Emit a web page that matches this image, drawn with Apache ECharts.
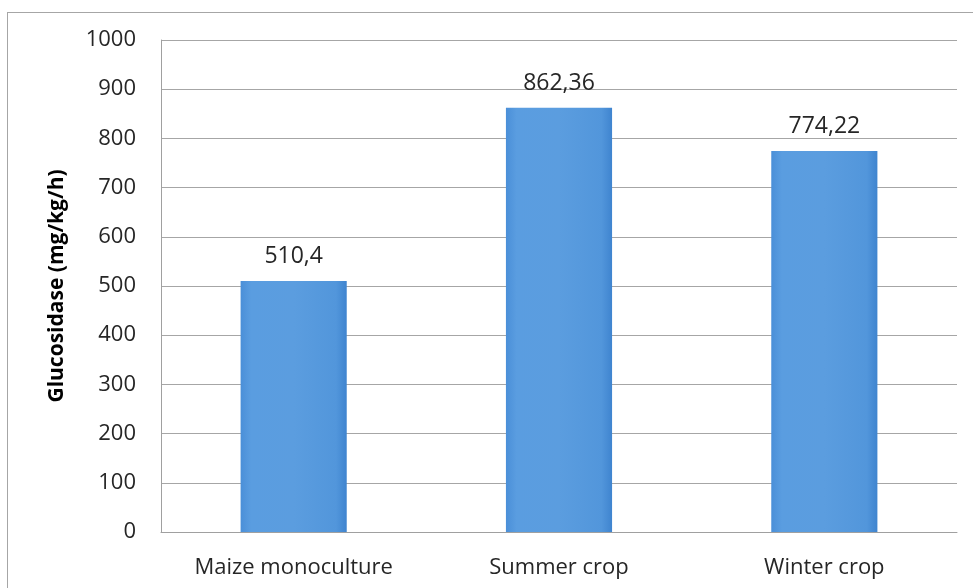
<!DOCTYPE html>
<html>
<head>
<meta charset="utf-8">
<script src="https://cdn.jsdelivr.net/npm/echarts@6/dist/echarts.min.js"></script>
<style>
  html, body { margin: 0; padding: 0; background: #ffffff; }
  #frame { position: absolute; left: 7px; top: 12px; width: 980px; height: 600px; border: 1px solid #a6a6a6; box-sizing: border-box; }
  #chart { position: absolute; left: 0; top: 0; width: 973px; height: 588px; }
</style>
</head>
<body>
<div id="frame"></div>
<div id="chart"></div>
<script>
// Glucosidase activity by cropping system
const categories = ['Maize monoculture', 'Summer crop', 'Winter crop'];
const glucosidase = [510.4, 862.36, 774.22];
const yAxisTitle = 'Glucosidase (mg/kg/h)';

const fontFamily = '"Open Sans", "Liberation Sans", sans-serif';
const chart = echarts.init(document.getElementById('chart'), null, { renderer: 'canvas' });

chart.setOption({
  animation: false,
  backgroundColor: 'transparent',
  grid: { left: 161, right: 16, top: 40, bottom: 56, containLabel: false },
  xAxis: {
    type: 'category',
    data: categories,
    axisLine: { show: true, lineStyle: { color: '#a0a0a0', width: 1 } },
    axisTick: { show: false },
    axisLabel: { color: '#262626', fontSize: 22, fontFamily: fontFamily, margin: 25 }
  },
  yAxis: {
    type: 'value',
    min: 0,
    max: 1000,
    interval: 100,
    name: yAxisTitle,
    nameLocation: 'middle',
    nameGap: 93,
    nameRotate: 90,
    nameTextStyle: { color: '#000000', fontSize: 21, fontWeight: 'bold', fontFamily: fontFamily },
    axisLine: { show: true, lineStyle: { color: '#a0a0a0', width: 1 } },
    axisTick: { show: false },
    axisLabel: { color: '#262626', fontSize: 22, fontFamily: fontFamily, margin: 25, formatter: v => String(v) },
    splitLine: { show: true, lineStyle: { color: '#a6a6a6', width: 1 } }
  },
  series: [{
    type: 'bar',
    data: glucosidase,
    barWidth: '40%',
    itemStyle: {
      color: new echarts.graphic.LinearGradient(0, 0, 1, 0, [
        { offset: 0, color: '#4a8fd8' },
        { offset: 0.1, color: '#5a9de0' },
        { offset: 0.5, color: '#5b9ddf' },
        { offset: 0.9, color: '#5296db' },
        { offset: 1, color: '#3f84cf' }
      ])
    },
    label: {
      show: true,
      position: 'top',
      distance: 13,
      color: '#262626',
      fontSize: 23,
      fontFamily: fontFamily,
      formatter: p => String(p.value).replace('.', ',')
    }
  }]
});
</script>
</body>
</html>
